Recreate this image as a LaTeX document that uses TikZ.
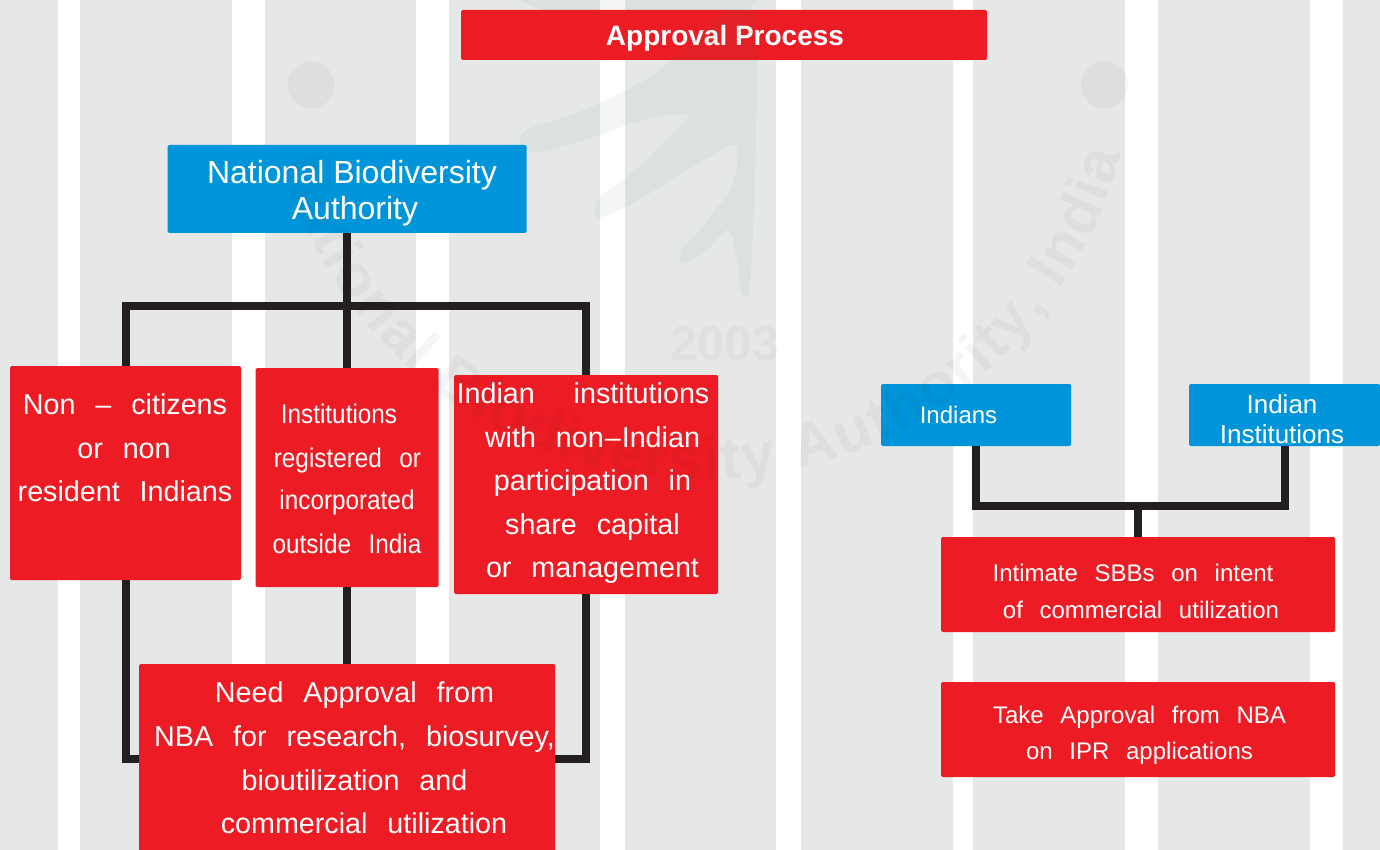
\documentclass[tikz,border=0pt]{standalone}
\usepackage{fontspec}
\usetikzlibrary{decorations.text}
\setmainfont{Liberation Sans}
\newfontfamily\wideface[WordSpace=2.5]{Liberation Sans}
\newfontfamily\tightface[WordSpace=2.6,FakeStretch=0.9]{Liberation Sans}
\newfontfamily\titleface[WordSpace=1.7]{Liberation Sans Bold}
\newfontfamily\markface{Liberation Sans Bold}
\definecolor{paper}{HTML}{E6E8E7}
\definecolor{boxred}{HTML}{ED1C24}
\definecolor{boxblue}{HTML}{0095DA}
\definecolor{linkblack}{HTML}{231F20}
\definecolor{birdtone}{RGB}{55,115,100}
\definecolor{marktone}{RGB}{20,25,22}
% one line of box text: centre offset dx, baseline offset dy from the box centre
\newcommand\Ln[3]{\makebox[0pt]{\raisebox{#2pt}[0pt][0pt]{\makebox[0pt]{\kern#1pt\kern#1pt #3}}}\ignorespaces}
\tikzset{
  boxbase/.style={inner sep=0pt,outer sep=0pt,rounded corners=1.5pt,text=white,anchor=center},
  redbox/.style={boxbase,fill=boxred},
  bluebox/.style={boxbase,fill=boxblue},
  size/.style 2 args={minimum width=#1pt,minimum height=#2pt},
  link/.style={draw=linkblack,line width=8pt,line join=miter},
  bird/.style={fill=birdtone,fill opacity=.06,draw=none},
}
\begin{document}
\begin{tikzpicture}[x=1pt,y=-1pt]
\useasboundingbox (0,0) rectangle (1380,850);
% striped ground
\fill[paper] (0,0) rectangle (1380,850);
\foreach \a/\b in {58/80,232/265,416/449,600/625,776/801,953/973,1125/1158,1310/1343}
  \fill[white] (\a,0) rectangle (\b,850);
% watermark bird, behind the boxes
\path[bird] plot[smooth cycle,tension=.35] coordinates {
 (525,-4) (543,10) (600,25) (677,50) (663,67) (640,83) (600,103) (567,117) (530,128) (520,137) (523,147)
 (537,153) (567,145) (600,135) (633,123) (667,115) (690,115) (673,133) (647,160) (623,180) (600,197)
 (595,210) (598,218) (620,210) (650,193) (687,170) (713,155) (730,145) (737,148) (737,167) (730,190)
 (713,213) (700,230) (683,247) (680,262) (687,263) (707,250) (727,230) (733,240) (738,267) (741,293)
 (748,295) (751,273) (753,233) (755,190) (756,133) (757,60) (750,10) (748,-4)};
% boxes
\node[redbox,size={526}{50}] (title) at (724,35)
  {\titleface\fontsize{28}{30}\selectfont\Ln{1}{-11}{Approval Process}};
\node[bluebox,size={359}{88}] (nba) at (347,189)
  {\fontsize{32}{36}\selectfont\Ln{5}{5.5}{National Biodiversity}\Ln{8}{-30.3}{Authority}};
\node[redbox,size={231}{214}] (noncit) at (125.5,473)
  {\wideface\fontsize{28.7}{30}\selectfont\Ln{-.5}{59}{Non – citizens}\Ln{-1.5}{14.8}{or non}\Ln{-.5}{-28.3}{resident Indians}};
\node[redbox,size={183}{219}] (foreign) at (347,477.5)
  {\tightface\fontsize{27}{30}\selectfont\Ln{-8}{53.8}{Institutions}\Ln{.5}{10.3}{registered or}\Ln{0}{-31.5}{incorporated}\Ln{0}{-75.5}{outside India}};
\node[redbox,size={264}{219}] (indinst) at (586,484.5)
  {\wideface\fontsize{28.7}{30}\selectfont\Ln{-3}{81}{Indian\hspace{19pt} institutions}\Ln{6.5}{37}{with non\kern1pt–\kern1pt Indian}\Ln{6.5}{-6.2}{participation in}\Ln{6.5}{-49.5}{share capital}\Ln{6.5}{-93.3}{or management}};
\node[redbox,size={416}{190}] (need) at (347,759)
  {\wideface\fontsize{28.7}{30}\selectfont\Ln{7.5}{56.3}{Need Approval from}\Ln{7.5}{12.3}{NBA for research, biosurvey,}\Ln{7.5}{-31}{bioutilization and}\Ln{17}{-74.7}{commercial utilization}};
\node[bluebox,size={190}{62}] (indians) at (976,415)
  {\fontsize{24}{26}\selectfont\Ln{-17.5}{-8.8}{Indians}};
\node[bluebox,size={191}{62}] (instright) at (1284.5,415)
  {\fontsize{26}{28}\selectfont\Ln{-2.5}{1.3}{Indian}\Ln{-2.5}{-28.7}{Institutions}};
\node[redbox,size={394}{95}] (intimate) at (1138,584.5)
  {\wideface\fontsize{24}{26}\selectfont\Ln{-5}{2.8}{Intimate SBBs on intent}\Ln{3}{-34.2}{of commercial utilization}};
\node[redbox,size={394}{95}] (take) at (1138,729.5)
  {\wideface\fontsize{24}{26}\selectfont\Ln{1.5}{6.2}{Take Approval from NBA}\Ln{1.5}{-29.5}{on IPR applications}};
% connectors
\coordinate (topbus) at (347,305.5);
\coordinate (rightbus) at (1138,506);
\draw[link] (nba.south) -- (foreign.north);
\draw[link] (noncit.north) |- (topbus) -| (indinst.north);
\draw[link] (foreign.south) -- (need.north);
\draw[link] (noncit.south) |- (need.west);
\draw[link] (indinst.south) |- (need.east);
\draw[link] (indians.south) |- (rightbus) -| (instright.south);
\draw[link] (rightbus) -- (intimate.north);
% watermark laid over everything
\path[bird] (673,60.5) -- (692,40) -- (727,10) -- (755,10) -- (757,60.5) -- cycle;
\fill[marktone,fill opacity=.04] (311,85) circle[radius=23.5] (1104.5,85) circle[radius=23.5];
\node[inner sep=0pt,text=marktone,text opacity=.035,font={\markface\fontsize{49}{52}\selectfont}] (year) at (725,343.5) {2003};
\begin{scope}[opacity=.045]
\path[decorate,decoration={text along path,text align={fit to path},
   text={|\color{marktone}\markface\fontsize{60}{62}\selectfont|National Biodiversity Authority, India}}]
   (281.4,163) arc[start angle=195.8,end angle=345.4,radius=435pt];
\end{scope}
\end{tikzpicture}
\end{document}
